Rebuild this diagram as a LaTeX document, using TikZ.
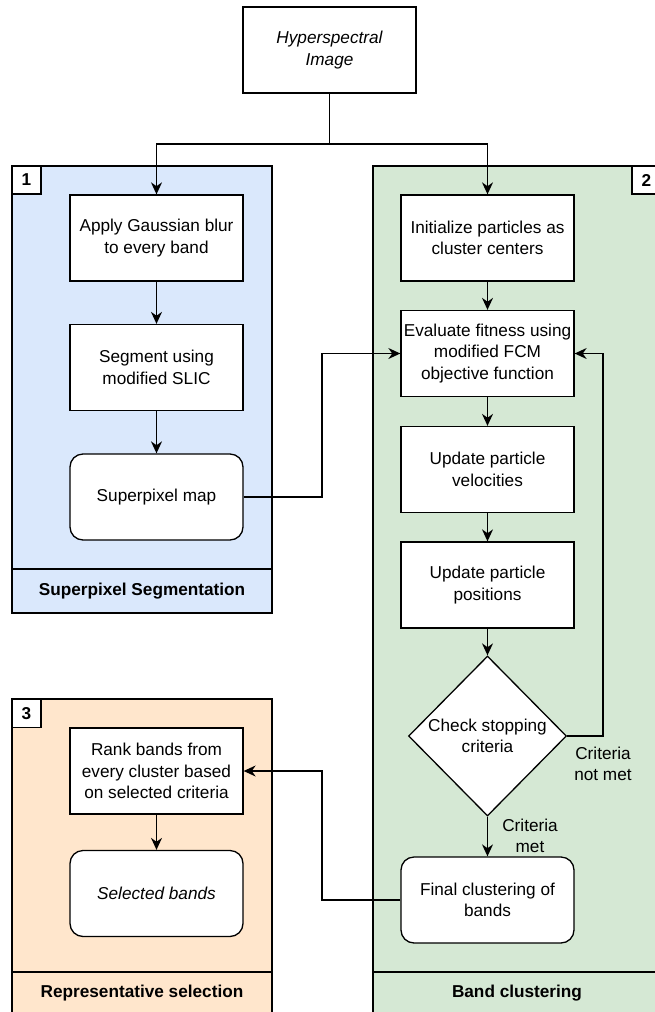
\documentclass[tikz,border=0pt]{standalone}
\usepackage{fontspec}
\setmainfont{Liberation Sans}
\usetikzlibrary{shapes.geometric,arrows.meta}
\definecolor{blueP}{HTML}{DAE8FC}
\definecolor{greenP}{HTML}{D5E8D4}
\definecolor{orangeP}{HTML}{FFE6CC}
\begin{document}
\begin{tikzpicture}[x=1pt,y=-1pt,
  txt/.style={font=\fontsize{17.2}{21.5}\selectfont, align=center},
  box/.style={txt, draw, line width=1.3pt, fill=white, minimum width=173pt, minimum height=86pt, inner sep=0pt},
  rbox/.style={box, rounded corners=13pt},
  ital/.style={font=\fontsize{17.2}{21.5}\selectfont\itshape},
  panel/.style={draw, line width=1.3pt},
  numbox/.style={draw, line width=1.3pt, fill=white, minimum width=29pt, minimum height=28pt, inner sep=0pt, font=\fontsize{17.2}{21.5}\selectfont\bfseries},
  plabel/.style={font=\fontsize{17.2}{21.5}\selectfont\bfseries},
  conn/.style={line width=1.3pt},
  arr/.style={conn, -{Stealth[length=12pt,width=11pt]}}
]
\useasboundingbox (0,0) rectangle (655,1012);
\clip (0,0) rectangle (655,1012);

% panels
\filldraw[panel, fill=blueP] (12,166) rectangle (272,613);
\draw[panel] (12,569) -- (272,569);
\filldraw[panel, fill=greenP] (373,166) rectangle (661,1015);
\draw[panel] (373,972) -- (661,972);
\filldraw[panel, fill=orangeP] (12,699) rectangle (272,1015);
\draw[panel] (12,972) -- (272,972);

\node[numbox] (n1) at (26.5,180) {1};
\node[numbox] (n2) at (646.5,180) {2};
\node[numbox] (n3) at (26.5,713.5) {3};
\node[plabel] (l1) at (142,591) {Superpixel Segmentation};
\node[plabel] (l2) at (517,993) {Band clustering};
\node[plabel] (l3) at (142,993) {Representative selection};

% nodes
\node[box, ital] (top) at (329.5,50) {Hyperspectral\\Image};
\node[box] (apply) at (156.5,238) {Apply Gaussian blur\\to every band};
\node[box] (seg) at (156.5,367.5) {Segment using\\modified SLIC};
\node[rbox] (spmap) at (156.5,497) {Superpixel map};

\node[box] (init) at (487.5,238) {Initialize particles as\\cluster centers};
\node[box] (eval) at (487.5,353.5) {Evaluate fitness using\\modified FCM\\objective function};
\node[box] (vel) at (487.5,469.5) {Update particle\\velocities};
\node[box] (pos) at (487.5,585) {Update particle\\positions};
\node[draw, diamond, line width=1.3pt, fill=white, minimum width=158pt, minimum height=160pt, inner sep=0pt] (dia) at (487.5,736) {};
\node[txt] (diatext) at (dia.center) {Check stopping\\criteria};
\node[rbox] (final) at (487.5,900) {Final clustering of\\bands};

\node[box] (rank) at (156.5,771) {Rank bands from\\every cluster based\\on selected criteria};
\node[rbox, ital] (sel) at (156.5,893.5) {Selected bands};

\node[txt] (notmet) at (603,764) {Criteria\\not met};
\node[txt] (met) at (530,836) {Criteria\\met};

% connectors
\coordinate (split) at (329.5,144);
\draw[conn] (top.south) -- (split);
\draw[arr] (split) -| (apply.north);
\draw[arr] (split) -| (init.north);
\draw[arr] (apply) -- (seg);
\draw[arr] (seg) -- (spmap);
\coordinate (j1) at (322,497);
\draw[arr] (spmap.east) -- (j1) |- (eval.west);
\draw[arr] (init) -- (eval);
\draw[arr] (eval) -- (vel);
\draw[arr] (vel) -- (pos);
\draw[arr] (pos.south) -- (dia.north);
\coordinate (j2) at (603,736);
\draw[arr] (dia.east) -- (j2) |- (eval.east);
\draw[arr] (dia.south) -- (final.north);
\coordinate (j3) at (322,900);
\draw[arr] (final.west) -- (j3) |- (rank.east);
\draw[arr] (rank) -- (sel);
\end{tikzpicture}
\end{document}
